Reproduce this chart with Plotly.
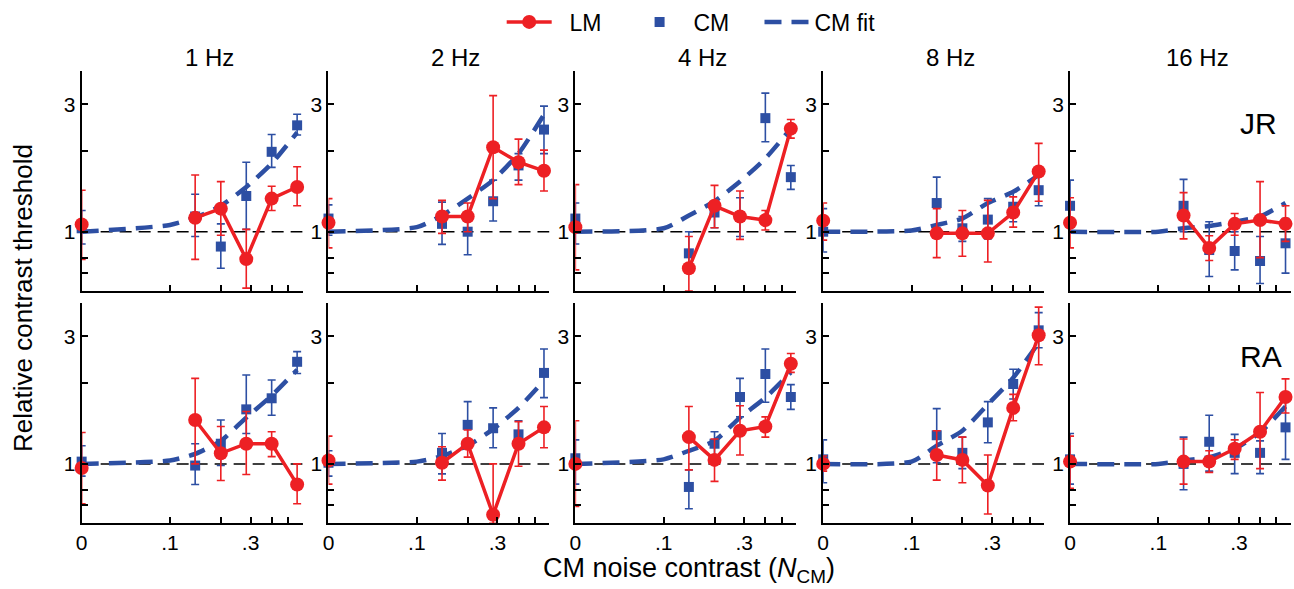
import math
import plotly.graph_objects as go

# ---------------- data ----------------
FREQS = ["1 Hz", "2 Hz", "4 Hz", "8 Hz", "16 Hz"]
SUBJECTS = ["JR", "RA"]
NOISE = [0, 0.141, 0.2, 0.283, 0.4, 0.566]            # CM noise contrast levels
FIT_NOISE = [0, 0.1, 0.141, 0.2, 0.283, 0.4, 0.566]   # where the fit curve was read
ZERO_POS = 0.03                                        # where "0" sits on the log x axis
X_MAX = 0.61
Y_MIN, Y_MAX = 0.6, 4.0
REFERENCE_LEVEL = 1.0

X_TICKS = [0, 0.1, 0.2, 0.3, 0.4, 0.5]
X_TICK_TEXT = ["0", ".1", "", ".3", "", ""]
Y_TICKS = [0.6, 0.7, 0.8, 1, 2, 3, 4]
Y_TICK_TEXT = ["", "", "", "1", "", "3", ""]

# LM thresholds (value, upper, lower) per frequency
JR_LM = [[1.065, 1.127, 1.22, 0.79, 1.33, 1.47],
         [1.08, 1.14, 1.14, 2.07, 1.82, 1.69],
         [1.04, 0.73, 1.25, 1.14, 1.105, 2.43],
         [1.10, 0.986, 0.986, 0.986, 1.18, 1.68],
         [1.08, 1.15, 0.87, 1.07, 1.105, 1.07]]
JR_LM_HI = [[1.43, 1.63, 1.54, 1.02, 1.48, 1.75],
            [1.33, 1.31, 1.28, 3.23, 2.22, 2.02],
            [1.50, 0.96, 1.49, 1.42, 1.20, 2.63],
            [1.28, 1.22, 1.20, 1.31, 1.35, 2.14],
            [1.34, 1.40, 0.966, 1.17, 1.54, 1.25]]
JR_LM_LO = [[0.788, 0.788, 0.97, 0.615, 1.20, 1.25],
            [0.87, 0.986, 1.0, 1.33, 1.50, 1.42],
            [0.72, 0.60, 1.035, 0.936, 1.015, 2.24],
            [0.93, 0.80, 0.81, 0.77, 1.04, 1.30],
            [0.87, 0.94, 0.78, 0.97, 0.80, 0.92]]
RA_LM = [[0.966, 1.46, 1.096, 1.19, 1.19, 0.838],
         [1.03, 1.01, 1.19, 0.645, 1.19, 1.37],
         [1.0, 1.26, 1.035, 1.33, 1.38, 2.37],
         [1.0, 1.08, 1.035, 0.83, 1.62, 3.03],
         [1.02, 1.02, 1.02, 1.14, 1.32, 1.78]]
RA_LM_HI = [[1.31, 2.09, 1.38, 1.57, 1.32, 1.0],
            [1.27, 1.16, 1.34, 1.0, 1.44, 1.64],
            [1.45, 1.64, 1.24, 1.65, 1.50, 2.59],
            [1.07, 1.33, 1.26, 1.08, 1.82, 3.86],
            [1.27, 1.24, 1.12, 1.23, 1.85, 2.08]]
RA_LM_LO = [[0.71, 1.0, 0.867, 0.913, 1.065, 0.71],
            [0.84, 0.87, 1.06, 0.60, 0.98, 1.15],
            [0.693, 0.95, 0.86, 1.08, 1.26, 2.20],
            [0.94, 0.87, 0.85, 0.65, 1.45, 2.35],
            [0.81, 0.84, 0.93, 1.04, 0.96, 1.55]]

# CM thresholds
JR_CM = [[1.03, 1.14, 0.88, 1.36, 1.99, 2.5],
         [1.12, 1.07, 1.0, 1.3, 1.77, 2.41],
         [1.12, 0.83, 1.18, 1.14, 2.66, 1.6],
         [1.0, 1.28, 1.03, 1.11, 1.24, 1.43],
         [1.25, 1.25, 0.854, 0.847, 0.777, 0.905]]
JR_CM_HI = [[1.20, 1.38, 1.07, 1.82, 2.31, 2.75],
            [1.26, 1.29, 1.15, 1.56, 1.96, 2.95],
            [1.28, 1.0, 1.30, 1.34, 3.30, 1.77],
            [1.22, 1.60, 1.14, 1.33, 1.41, 1.63],
            [1.56, 1.57, 1.09, 1.0, 0.96, 1.12]]
JR_CM_LO = [[0.90, 0.96, 0.73, 1.02, 1.74, 2.30],
            [0.97, 0.897, 0.82, 1.096, 1.56, 1.96],
            [0.90, 0.70, 1.035, 0.96, 2.17, 1.44],
            [0.84, 1.035, 0.92, 0.94, 1.09, 1.25],
            [1.0, 1.0, 0.68, 0.72, 0.64, 0.70]]
RA_CM = [[1.02, 0.986, 1.19, 1.6, 1.76, 2.41],
         [1.01, 1.1, 1.4, 1.36, 1.29, 2.19],
         [1.05, 0.82, 1.19, 1.78, 2.17, 1.78],
         [1.04, 1.28, 1.1, 1.43, 1.99, 3.16],
         [1.04, 1.0, 1.21, 1.1, 1.1, 1.37]]
RA_CM_HI = [[1.17, 1.19, 1.46, 2.15, 2.06, 2.63],
            [1.12, 1.30, 1.71, 1.62, 1.45, 2.69],
            [1.23, 0.95, 1.32, 2.09, 2.69, 1.98],
            [1.23, 1.61, 1.26, 1.71, 2.26, 3.68],
            [1.30, 1.26, 1.52, 1.29, 1.22, 1.85]]
RA_CM_LO = [[0.90, 0.838, 0.986, 1.30, 1.52, 2.18],
            [0.90, 0.918, 1.15, 1.15, 1.15, 1.77],
            [0.84, 0.68, 1.06, 1.50, 1.70, 1.60],
            [0.85, 1.01, 0.96, 1.20, 1.75, 2.72],
            [0.84, 0.80, 0.94, 0.92, 0.92, 1.04]]

# CM fit curve, read at FIT_NOISE
JR_FIT = [[1.0, 1.06, 1.13, 1.25, 1.47, 1.80, 2.35],
          [1.0, 1.04, 1.15, 1.33, 1.56, 1.96, 2.74],
          [1.0, 1.03, 1.15, 1.30, 1.54, 1.88, 2.43],
          [1.0, 1.01, 1.06, 1.12, 1.28, 1.41, 1.63],
          [1.0, 1.0, 1.03, 1.05, 1.09, 1.14, 1.28]]
RA_FIT = [[1.0, 1.03, 1.09, 1.22, 1.49, 1.80, 2.25],
          [1.0, 1.02, 1.07, 1.17, 1.35, 1.62, 2.05],
          [1.0, 1.04, 1.12, 1.22, 1.49, 1.77, 2.20],
          [1.0, 1.02, 1.17, 1.33, 1.67, 2.10, 2.84],
          [1.0, 1.0, 1.03, 1.06, 1.14, 1.31, 1.64]]

DATA = {
    "JR": (JR_LM, JR_LM_HI, JR_LM_LO, JR_CM, JR_CM_HI, JR_CM_LO, JR_FIT),
    "RA": (RA_LM, RA_LM_HI, RA_LM_LO, RA_CM, RA_CM_HI, RA_CM_LO, RA_FIT),
}

# ---------------- styling / layout ----------------
RED = "#ED2024"
BLUE = "#2D4FA3"
FONT = "Liberation Sans"
W, H = 1294, 589
COL_LEFT = [76, 324, 572, 821, 1069]
COL_W = 222
ROW_TOP = [69, 302]
ROW_H = 221
TICK_SIZE = 21
NB = "&nbsp;"


def xpos(vals):
    return [ZERO_POS if v == 0 else v for v in vals]


fig = go.Figure()
layout_axes = {}

for r, subj in enumerate(SUBJECTS):
    lm, lm_hi, lm_lo, cm, cm_hi, cm_lo, fit = DATA[subj]
    for c in range(5):
        n = r * 5 + c + 1
        xa = "x" if n == 1 else f"x{n}"
        ya = "y" if n == 1 else f"y{n}"
        first = (n == 1)

        # reference line at 1
        fig.add_trace(go.Scatter(
            x=[ZERO_POS, X_MAX], y=[REFERENCE_LEVEL, REFERENCE_LEVEL],
            mode="lines", line=dict(color="black", width=1.5, dash="12px,7px"),
            xaxis=xa, yaxis=ya, showlegend=False, hoverinfo="skip"))
        # CM fit
        fig.add_trace(go.Scatter(
            x=xpos(FIT_NOISE), y=fit[c], mode="lines", name="CM fit",
            line=dict(color=BLUE, width=4.5, dash="17px,10px", shape="spline", smoothing=0.6),
            xaxis=xa, yaxis=ya, showlegend=first, legend="legend3"))
        # CM data
        v = cm[c]
        fig.add_trace(go.Scatter(
            x=xpos(NOISE), y=v, mode="markers", name=NB + "CM",
            marker=dict(symbol="square", size=10, color=BLUE),
            error_y=dict(type="data", symmetric=False,
                         array=[h - y for h, y in zip(cm_hi[c], v)],
                         arrayminus=[y - l for y, l in zip(v, cm_lo[c])],
                         color=BLUE, thickness=1.6, width=4),
            xaxis=xa, yaxis=ya, showlegend=first, legend="legend2", cliponaxis=False))
        # LM connecting line (noise-present conditions only)
        v = lm[c]
        fig.add_trace(go.Scatter(
            x=xpos(NOISE[1:]), y=v[1:], mode="lines", name="LM",
            line=dict(color=RED, width=3.5),
            xaxis=xa, yaxis=ya, showlegend=False, hoverinfo="skip"))
        # LM data
        fig.add_trace(go.Scatter(
            x=xpos(NOISE), y=v, mode="markers", name="LM",
            marker=dict(symbol="circle", size=14, color=RED),
            error_y=dict(type="data", symmetric=False,
                         array=[h - y for h, y in zip(lm_hi[c], v)],
                         arrayminus=[y - l for y, l in zip(v, lm_lo[c])],
                         color=RED, thickness=1.6, width=4),
            xaxis=xa, yaxis=ya, showlegend=False, cliponaxis=False))
        if first:
            # legend entry for LM (line + marker)
            fig.add_trace(go.Scatter(
                x=[None], y=[None], mode="lines+markers", name=NB + NB + "LM",
                line=dict(color=RED, width=3.5),
                marker=dict(symbol="circle", size=14, color=RED),
                xaxis=xa, yaxis=ya, showlegend=True, legend="legend"))

        x0 = COL_LEFT[c] / W
        x1 = (COL_LEFT[c] + COL_W) / W
        y1 = 1 - ROW_TOP[r] / H
        y0 = 1 - (ROW_TOP[r] + ROW_H) / H
        key_x = "xaxis" if n == 1 else f"xaxis{n}"
        key_y = "yaxis" if n == 1 else f"yaxis{n}"
        layout_axes[key_x] = dict(
            domain=[x0, x1], anchor=ya, type="log",
            range=[math.log10(ZERO_POS), math.log10(X_MAX)],
            tickvals=[ZERO_POS if t == 0 else t for t in X_TICKS] + [X_MAX],
            ticktext=(X_TICK_TEXT + [""]) if r == 1 else [""] * (len(X_TICKS) + 1),
            showticklabels=(r == 1),
            ticks="inside", ticklen=6, tickwidth=1.5, tickcolor="black",
            showline=True, linecolor="black", linewidth=2, mirror=False,
            showgrid=False, zeroline=False,
            tickfont=dict(size=TICK_SIZE, color="black", family=FONT))
        layout_axes[key_y] = dict(
            domain=[y0, y1], anchor=xa, type="log",
            range=[math.log10(Y_MIN), math.log10(Y_MAX)],
            tickvals=Y_TICKS, ticktext=Y_TICK_TEXT,
            ticks="inside", ticklen=6, tickwidth=1.5, tickcolor="black",
            showline=True, linecolor="black", linewidth=2, mirror=False,
            showgrid=False, zeroline=False,
            tickfont=dict(size=TICK_SIZE, color="black", family=FONT))

annotations = []
for c, f in enumerate(FREQS):
    annotations.append(dict(
        text=f, x=(COL_LEFT[c] + COL_W / 2 + 17) / W, y=1 - 56 / H,
        xref="paper", yref="paper", showarrow=False,
        font=dict(size=24, color="black", family=FONT), xanchor="center", yanchor="middle"))
annotations.append(dict(text="JR", x=1258 / W, y=1 - 122 / H, xref="paper", yref="paper",
                        showarrow=False, xanchor="center", yanchor="middle",
                        font=dict(size=30, color="black", family=FONT)))
annotations.append(dict(text="RA", x=1261 / W, y=1 - 356 / H, xref="paper", yref="paper",
                        showarrow=False, xanchor="center", yanchor="middle",
                        font=dict(size=30, color="black", family=FONT)))
annotations.append(dict(text="CM noise contrast (<i>N</i><sub>CM</sub>)", x=686 / W, y=0.0,
                        xref="paper", yref="paper", showarrow=False,
                        xanchor="center", yanchor="bottom",
                        font=dict(size=27, color="black", family=FONT)))
annotations.append(dict(text="Relative contrast threshold", x=17 / W, y=1 - 297 / H,
                        xref="paper", yref="paper", showarrow=False, textangle=-90,
                        xanchor="center", yanchor="middle",
                        font=dict(size=26, color="black", family=FONT)))

LEG_COMMON = dict(orientation="h", xanchor="left", y=1 - 20 / H, yanchor="middle",
                  font=dict(size=23, color="black", family=FONT),
                  itemwidth=45, bgcolor="rgba(0,0,0,0)")

fig.update_layout(
    width=W, height=H,
    margin=dict(l=0, r=0, t=0, b=0),
    paper_bgcolor="white", plot_bgcolor="white",
    font=dict(family=FONT, color="black"),
    annotations=annotations,
    legend=dict(x=498 / W, **LEG_COMMON),
    legend2=dict(x=629 / W, **LEG_COMMON),
    legend3=dict(x=757 / W, **LEG_COMMON),
    **layout_axes,
)

fig.write_html("out.html")
